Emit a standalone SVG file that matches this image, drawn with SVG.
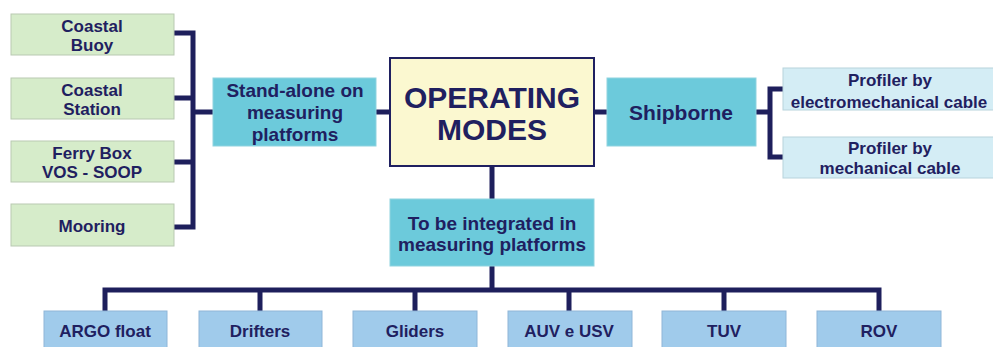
<svg xmlns="http://www.w3.org/2000/svg" width="993" height="347" viewBox="0 0 993 347">
<style>
text{font-family:"Liberation Sans",Arial,sans-serif;font-weight:bold;fill:#1f2060;text-anchor:middle}
.g{fill:#d6ecca;stroke:#b9c9b2;stroke-width:1}
.c{fill:#6ccadb;stroke:#8fd3df;stroke-width:1}
.p{fill:#d4edf5;stroke:#b8d3dc;stroke-width:1}
.b{fill:#a0cbeb;stroke:#8fb6d8;stroke-width:1}
.m{fill:#fbf8d0;stroke:#1f2060;stroke-width:2}
.ln{fill:none;stroke:#1e1f5c;stroke-width:5}
.s17{font-size:17px}
.s19{font-size:19px}
</style>
<rect width="993" height="347" fill="#ffffff"/>
<g id="connectors">
<path class="ln" d="M174 33H193V227H174M174 98H193M174 162H193M193 112H213"/>
<path class="ln" d="M376 112H390M594 112H607"/>
<path class="ln" d="M756 112H770M783 89H770V157H783"/>
<path class="ln" d="M492 166V199M492 266V290"/>
<path class="ln" d="M105 311V290H879V311M260 290V311M415 290V311M569 290V311M724 290V311"/>
</g>
<g id="coastal-buoy"><rect class="g" x="11" y="14" width="163" height="41"/><text class="s17" x="92" y="32">Coastal</text><text class="s17" x="92" y="51">Buoy</text></g>
<g id="coastal-station"><rect class="g" x="11" y="78" width="163" height="41"/><text class="s17" x="92" y="96">Coastal</text><text class="s17" x="92" y="115">Station</text></g>
<g id="ferry-box"><rect class="g" x="11" y="141" width="163" height="41"/><text class="s17" x="92" y="159">Ferry Box</text><text class="s17" x="92" y="178">VOS - SOOP</text></g>
<g id="mooring"><rect class="g" x="11" y="204" width="163" height="42"/><text class="s17" x="92" y="232">Mooring</text></g>
<g id="stand-alone"><rect class="c" x="213" y="78" width="163" height="68"/><text class="s19" x="295" y="97">Stand-alone on</text><text class="s19" x="295" y="119">measuring</text><text class="s19" x="295" y="141">platforms</text></g>
<g id="operating-modes"><rect class="m" x="390" y="58" width="204" height="108"/><text x="492" y="108" style="font-size:30px">OPERATING</text><text x="492" y="140" style="font-size:30px">MODES</text></g>
<g id="shipborne"><rect class="c" x="607" y="78" width="149" height="68"/><text x="681" y="120" style="font-size:21px">Shipborne</text></g>
<g id="profiler-electro"><rect class="p" x="783" y="68" width="215" height="42"/><text class="s17" x="890" y="86">Profiler by</text><text class="s17" x="889" y="108">electromechanical cable</text></g>
<g id="profiler-mech"><rect class="p" x="783" y="137" width="215" height="41"/><text class="s17" x="890" y="154">Profiler by</text><text class="s17" x="890" y="174">mechanical cable</text></g>
<g id="integrated"><rect class="c" x="390" y="199" width="204" height="67"/><text class="s19" x="492" y="230">To be integrated in</text><text class="s19" x="492" y="251">measuring platforms</text></g>
<g id="argo"><rect class="b" x="44" y="311" width="123" height="40"/><text class="s17" x="105" y="337">ARGO float</text></g>
<g id="drifters"><rect class="b" x="199" y="311" width="123" height="40"/><text class="s17" x="260" y="337">Drifters</text></g>
<g id="gliders"><rect class="b" x="353" y="311" width="124" height="40"/><text class="s17" x="415" y="337">Gliders</text></g>
<g id="auv"><rect class="b" x="508" y="311" width="124" height="40"/><text class="s17" x="569" y="337">AUV e USV</text></g>
<g id="tuv"><rect class="b" x="662" y="311" width="124" height="40"/><text class="s17" x="724" y="337">TUV</text></g>
<g id="rov"><rect class="b" x="817" y="311" width="124" height="40"/><text class="s17" x="879" y="337">ROV</text></g>
</svg>
